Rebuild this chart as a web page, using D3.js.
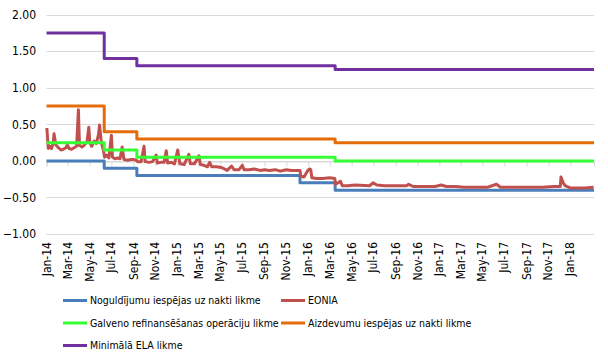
<!DOCTYPE html>
<html>
<head>
<meta charset="utf-8">
<script src="https://cdn.jsdelivr.net/npm/d3@7"></script>
<style>
  body { margin: 0; background: #fff; }
  text { font-family: Tahoma, "DejaVu Sans Condensed", "DejaVu Sans", sans-serif; fill: #000; }
</style>
</head>
<body>
<div class="container"></div>
<script>
// policy rate changes (ECB corridor + Latvijas Banka minimal ELA rate)
var rateDates = ["2014-01-01", "2014-06-11", "2014-09-10", "2015-12-09", "2016-03-16"];
var depositRate = [0.00, -0.10, -0.20, -0.30, -0.40];
var mroRate = [0.25, 0.15, 0.05, 0.05, 0.00];
var lendingRate = [0.75, 0.40, 0.30, 0.30, 0.25];
var elaRate = [1.75, 1.40, 1.30, 1.30, 1.25];

// EONIA
var eoniaDates = [
  "2014-01-02","2014-01-06","2014-01-10","2014-01-15","2014-01-20","2014-01-22","2014-01-27",
  "2014-02-03","2014-02-10","2014-02-17","2014-02-24","2014-02-28",
  "2014-03-05","2014-03-12","2014-03-19","2014-03-26","2014-03-31",
  "2014-04-03","2014-04-10","2014-04-17","2014-04-24","2014-04-29",
  "2014-05-02","2014-05-07","2014-05-14","2014-05-20","2014-05-26","2014-05-29",
  "2014-06-03","2014-06-09","2014-06-12","2014-06-18","2014-06-24","2014-07-01",
  "2014-07-04","2014-07-11","2014-07-18","2014-07-25","2014-07-31",
  "2014-08-05","2014-08-15","2014-08-25","2014-09-01","2014-09-08","2014-09-12","2014-09-22","2014-09-30",
  "2014-10-03","2014-10-15","2014-10-24","2014-11-03","2014-11-06","2014-11-15","2014-11-25",
  "2014-12-01","2014-12-05","2014-12-15","2014-12-24","2015-01-02","2015-01-08","2015-01-20",
  "2015-02-02","2015-02-06","2015-02-18","2015-03-02","2015-03-06","2015-03-16","2015-03-26",
  "2015-04-01","2015-04-07","2015-04-20","2015-05-04","2015-05-20","2015-06-01","2015-06-08","2015-06-22",
  "2015-07-01","2015-07-06","2015-07-20","2015-08-03","2015-08-20","2015-09-01","2015-09-15",
  "2015-10-01","2015-10-15","2015-11-01","2015-11-15","2015-12-01","2015-12-09","2015-12-11","2015-12-20",
  "2015-12-31","2016-01-04","2016-01-08","2016-01-11","2016-01-25","2016-02-10","2016-03-01","2016-03-15",
  "2016-03-17","2016-03-31","2016-04-05","2016-04-20","2016-05-10","2016-06-20","2016-06-30","2016-07-10",
  "2016-08-01","2016-08-20","2016-09-10","2016-10-01","2016-10-07","2016-10-20","2016-11-15","2016-12-01",
  "2016-12-20","2017-01-06","2017-01-20","2017-02-15","2017-03-10","2017-04-15","2017-05-15","2017-06-09",
  "2017-06-20","2017-07-15","2017-08-15","2017-09-15","2017-10-15","2017-11-15","2017-12-04","2017-12-06",
  "2017-12-12","2017-12-18","2018-01-01","2018-01-20","2018-02-10","2018-03-07"
];
var eoniaValues = [
  0.45, 0.17, 0.20, 0.17, 0.25, 0.37, 0.22,
  0.18, 0.15, 0.16, 0.18, 0.22,
  0.17, 0.16, 0.18, 0.20, 0.70,
  0.21, 0.19, 0.22, 0.26, 0.46,
  0.25, 0.20, 0.27, 0.24, 0.36, 0.49,
  0.25, 0.14, 0.05, 0.08, 0.04, 0.35,
  0.05, 0.03, 0.04, 0.03, 0.19,
  0.02, 0.01, 0.02, 0.02, 0.01, -0.01, -0.01, 0.20,
  -0.01, -0.02, -0.01, 0.08, -0.03, -0.02, -0.02,
  0.14, -0.03, -0.02, -0.04, 0.15, -0.04, -0.05,
  0.09, -0.04, -0.04, 0.07, -0.05, -0.06, -0.08,
  -0.02, -0.08, -0.08, -0.09, -0.13, -0.07, -0.12, -0.12,
  -0.06, -0.12, -0.12, -0.11, -0.13, -0.12, -0.13,
  -0.12, -0.14, -0.12, -0.13, -0.13, -0.13, -0.21, -0.22,
  -0.13, -0.11, -0.12, -0.23, -0.24, -0.24, -0.23, -0.24,
  -0.32, -0.28, -0.34, -0.34, -0.33, -0.34, -0.30, -0.33,
  -0.34, -0.34, -0.34, -0.34, -0.32, -0.35, -0.35, -0.35,
  -0.35, -0.33, -0.35, -0.35, -0.36, -0.36, -0.36, -0.32,
  -0.36, -0.36, -0.36, -0.36, -0.36, -0.35, -0.35, -0.22,
  -0.30, -0.34, -0.37, -0.37, -0.37, -0.36
];

var yTicks = [2.00, 1.50, 1.00, 0.50, 0.00, -0.50, -1.00];
var seriesNames = [
  "Noguldījumu iespējas uz nakti likme",
  "EONIA",
  "Galveno refinansēšanas operāciju likme",
  "Aizdevumu iespējas uz nakti likme",
  "Minimālā ELA likme"
];
var seriesColors = ["#4a7ebb", "#c0504d", "#33ff33", "#e46c0a", "#7030a0"];

var parse = d3.timeParse("%Y-%m-%d");
var startDate = parse("2014-01-01");
var endDate = parse("2018-03-08");
var lastLabel = parse("2018-01-02");

var width = 608, height = 363;
var svg = d3.select(".container")
  .append("svg")
  .attr("width", width)
  .attr("height", height);

var x = d3.scaleTime()
  .domain([startDate, endDate])
  .range([46.5, 594]);

var y = d3.scaleLinear()
  .domain([-1, 2])
  .range([234, 14.7]);

// horizontal gridlines
svg.append("g")
  .selectAll("line")
  .data(yTicks)
  .enter()
  .append("line")
  .attr("x1", x.range()[0])
  .attr("x2", x.range()[1])
  .attr("y1", function(d) { return Math.round(y(d)) + 0.5; })
  .attr("y2", function(d) { return Math.round(y(d)) + 0.5; })
  .attr("stroke", "#d9d9d9")
  .attr("stroke-width", 1);

// y axis labels
svg.append("g")
  .selectAll("text")
  .data(yTicks)
  .enter()
  .append("text")
  .attr("x", 36)
  .attr("y", function(d) { return y(d); })
  .attr("dy", "0.35em")
  .attr("text-anchor", "end")
  .style("font-size", "12px")
  .text(function(d) { return d3.format(".2f")(d); });

// x ticks at the zero line, every two months
var monthTicks = d3.timeMonth.every(2).range(startDate, lastLabel);
var xAxis = svg.append("g")
  .attr("transform", "translate(0," + (Math.round(y(0)) + 0.5) + ")")
  .call(d3.axisBottom(x).tickValues(monthTicks).tickSize(5).tickFormat(""));
xAxis.select(".domain").attr("stroke", "#d9d9d9");
xAxis.selectAll(".tick line").attr("stroke", "#d9d9d9");

// x labels, low position under the plot
svg.append("g")
  .selectAll("text")
  .data(monthTicks)
  .enter()
  .append("text")
  .attr("transform", function(d) { return "translate(" + (x(d) + 4) + ",242) rotate(-90)"; })
  .attr("text-anchor", "end")
  .style("font-size", "12px")
  .text(function(d) { return d3.timeFormat("%b-%y")(d); });

function stepData(values) {
  var pts = rateDates.map(function(d, i) { return { date: parse(d), value: values[i] }; });
  pts.push({ date: endDate, value: values[values.length - 1] });
  return pts;
}

var eonia = eoniaDates.map(function(d, i) { return { date: parse(d), value: eoniaValues[i] }; });

var stepLine = d3.line()
  .x(function(d) { return x(d.date); })
  .y(function(d) { return y(d.value); })
  .curve(d3.curveStepAfter);

var plainLine = d3.line()
  .x(function(d) { return x(d.date); })
  .y(function(d) { return y(d.value); });

var paths = [
  { d: stepLine(stepData(depositRate)), color: seriesColors[0] },
  { d: plainLine(eonia), color: seriesColors[1] },
  { d: stepLine(stepData(mroRate)), color: seriesColors[2] },
  { d: stepLine(stepData(lendingRate)), color: seriesColors[3] },
  { d: stepLine(stepData(elaRate)), color: seriesColors[4] }
];

svg.append("g")
  .selectAll("path")
  .data(paths)
  .enter()
  .append("path")
  .attr("d", function(d) { return d.d; })
  .attr("fill", "none")
  .attr("stroke", function(d) { return d.color; })
  .attr("stroke-width", 3)
  .attr("stroke-linejoin", "round");

// legend
var legendPos = [[63, 300.5], [281, 300.5], [63, 323], [281, 323], [63, 345.5]];
var legend = svg.append("g")
  .selectAll("g")
  .data(seriesNames)
  .enter()
  .append("g")
  .attr("transform", function(d, i) { return "translate(" + legendPos[i][0] + "," + legendPos[i][1] + ")"; });

legend.append("line")
  .attr("x1", 0)
  .attr("x2", 24)
  .attr("stroke", function(d, i) { return seriesColors[i]; })
  .attr("stroke-width", 3);

legend.append("text")
  .attr("x", 27)
  .attr("dy", "0.35em")
  .style("font-size", "10.5px")
  .text(function(d) { return d; });
</script>
</body>
</html>
